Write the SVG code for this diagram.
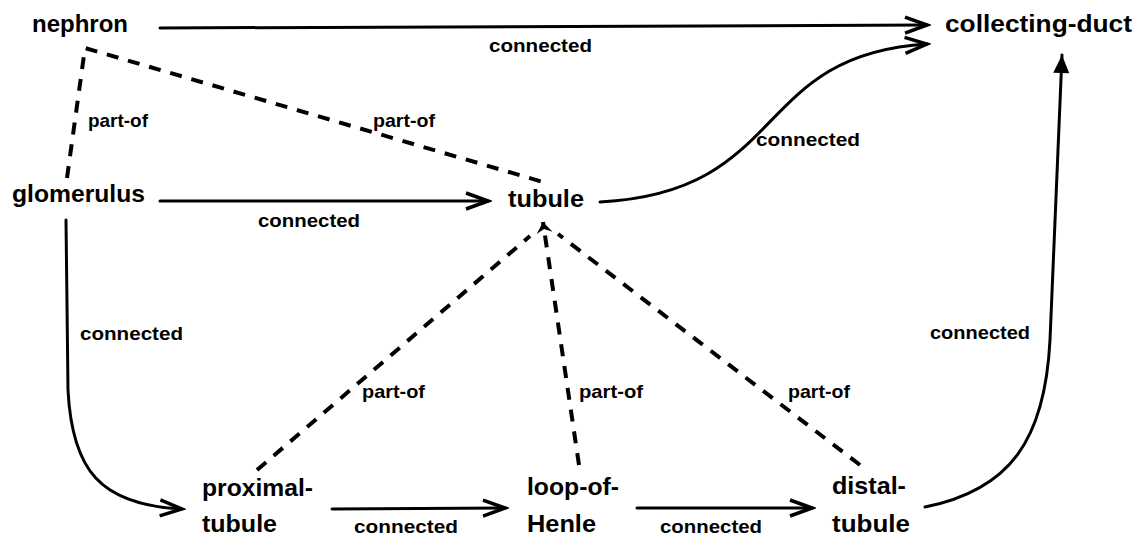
<svg xmlns="http://www.w3.org/2000/svg" width="1138" height="539" viewBox="0 0 1138 539">
<style>
.node{font-family:"Liberation Sans",Arial,Helvetica,sans-serif;font-weight:bold;font-size:24px;fill:#000}
.lbl{font-family:"Liberation Sans",Arial,Helvetica,sans-serif;font-weight:bold;font-size:19px;fill:#000}
.conn{fill:none;stroke:#000;stroke-width:3;stroke-linecap:round}
.part{fill:none;stroke:#000;stroke-width:4;stroke-dasharray:12 10}
</style>
<defs>
<marker id="open" markerUnits="userSpaceOnUse" viewBox="-26 -12 30 24" refX="0" refY="0" markerWidth="30" markerHeight="24" orient="auto">
<path d="M-22,-8 L0,0 L-22,8" fill="none" stroke="#000" stroke-width="3.5" stroke-dasharray="none"/>
</marker>
<marker id="solid" markerUnits="userSpaceOnUse" viewBox="-22 -10 24 20" refX="0" refY="0" markerWidth="24" markerHeight="20" orient="auto">
<path d="M-18,-8 L0,0 L-18,8 Z" fill="#000" stroke="none"/>
</marker>
<marker id="small" markerUnits="userSpaceOnUse" viewBox="-14 -10 16 20" refX="0" refY="0" markerWidth="16" markerHeight="20" orient="auto">
<path d="M-11,-8 L0,0 L-11,8 L-7,0 Z" fill="#000" stroke="none"/>
</marker>
</defs>
<rect width="1138" height="539" fill="#fff"/>
<g id="connectors">
<path class="conn" d="M160,28 L927,25" marker-end="url(#open)"/>
<path class="conn" d="M600,202 C790,192 750,55 927,44" marker-end="url(#open)"/>
<path class="conn" d="M160,201 L488,201" marker-end="url(#open)"/>
<path class="conn" d="M66,220 L68,390 C72,470 100,505 182,509" marker-end="url(#open)"/>
<path class="conn" d="M332,509 L505,508" marker-end="url(#open)"/>
<path class="conn" d="M637,508 L812,508" marker-end="url(#open)"/>
<path class="conn" d="M925,507 C1010,490 1045,440 1050,340 L1062,55" marker-end="url(#solid)"/>
<path class="part" d="M67,178 L85,48 L543,182"/>
<path class="part" d="M257,470 L530,236"/>
<path class="part" d="M579,465 L543,222" marker-end="url(#small)"/>
<path class="part" d="M860,465 L558,234"/>
<text class="lbl" x="489" y="52" textLength="103" lengthAdjust="spacingAndGlyphs">connected</text>
<text class="lbl" x="756" y="146" textLength="104" lengthAdjust="spacingAndGlyphs">connected</text>
<text class="lbl" x="258" y="227" textLength="102" lengthAdjust="spacingAndGlyphs">connected</text>
<text class="lbl" x="80" y="340" textLength="103" lengthAdjust="spacingAndGlyphs">connected</text>
<text class="lbl" x="354" y="533" textLength="104" lengthAdjust="spacingAndGlyphs">connected</text>
<text class="lbl" x="660" y="533" textLength="102" lengthAdjust="spacingAndGlyphs">connected</text>
<text class="lbl" x="930" y="339" textLength="100" lengthAdjust="spacingAndGlyphs">connected</text>
<text class="lbl" x="88" y="127" textLength="60" lengthAdjust="spacingAndGlyphs">part-of</text>
<text class="lbl" x="373" y="127" textLength="62" lengthAdjust="spacingAndGlyphs">part-of</text>
<text class="lbl" x="362" y="398" textLength="63" lengthAdjust="spacingAndGlyphs">part-of</text>
<text class="lbl" x="579" y="398" textLength="64" lengthAdjust="spacingAndGlyphs">part-of</text>
<text class="lbl" x="788" y="398" textLength="62" lengthAdjust="spacingAndGlyphs">part-of</text>
</g>
<g id="nephron"><text class="node" x="32" y="32" textLength="96" lengthAdjust="spacingAndGlyphs">nephron</text></g>
<g id="collecting-duct"><text class="node" x="945" y="32" textLength="187" lengthAdjust="spacingAndGlyphs">collecting-duct</text></g>
<g id="glomerulus"><text class="node" x="12" y="202" textLength="133" lengthAdjust="spacingAndGlyphs">glomerulus</text></g>
<g id="tubule"><text class="node" x="508" y="207" textLength="76" lengthAdjust="spacingAndGlyphs">tubule</text></g>
<g id="proximal-tubule"><text class="node" x="202" y="496" textLength="111" lengthAdjust="spacingAndGlyphs">proximal-</text><text class="node" x="202" y="532" textLength="75" lengthAdjust="spacingAndGlyphs">tubule</text></g>
<g id="loop-of-Henle"><text class="node" x="527" y="495" textLength="92" lengthAdjust="spacingAndGlyphs">loop-of-</text><text class="node" x="527" y="532" textLength="69" lengthAdjust="spacingAndGlyphs">Henle</text></g>
<g id="distal-tubule"><text class="node" x="832" y="494" textLength="74" lengthAdjust="spacingAndGlyphs">distal-</text><text class="node" x="832" y="532" textLength="78" lengthAdjust="spacingAndGlyphs">tubule</text></g>
</svg>
